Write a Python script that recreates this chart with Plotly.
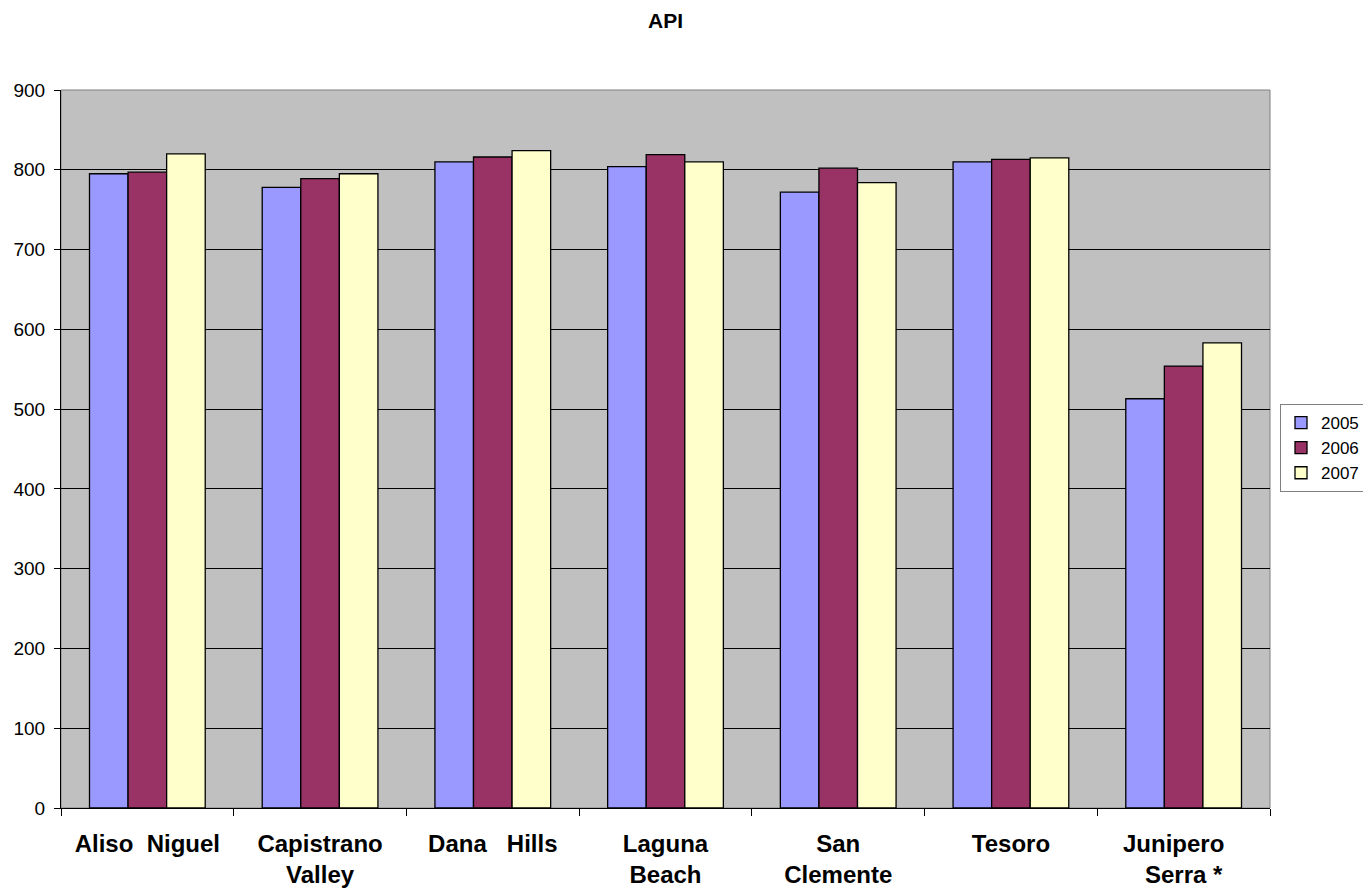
import plotly.graph_objects as go

categories = ["Aliso\u00a0\u00a0Niguel", "Capistrano<br>Valley", "Dana\u00a0\u00a0\u00a0Hills",
              "Laguna<br>Beach", "San<br>Clemente", "Tesoro", "Junipero\u00a0\u00a0\u00a0<br>Serra *"]
years = ["2005", "2006", "2007"]
v2005 = [795, 778, 810, 804, 772, 810, 513]
v2006 = [797, 789, 816, 819, 802, 813, 554]
v2007 = [820, 795, 824, 810, 784, 815, 583]
colors = ["#9999FF", "#993366", "#FFFFCC"]

fig = go.Figure()
for name, vals, c in zip(years, [v2005, v2006, v2007], colors):
    fig.add_trace(go.Bar(x=categories, y=vals, name=name, marker_color=c,
                         marker_line_color="black", marker_line_width=1.3))

W, H = 1363, 880
fig.update_layout(
    width=W, height=H,
    margin=dict(l=53, r=101, t=82, b=80, autoexpand=False),
    paper_bgcolor="white", plot_bgcolor="#C0C0C0",
    barmode="group", bargap=0.33, bargroupgap=0,
    font=dict(family="Liberation Sans, Arial", size=18, color="black"),
    title=dict(text="<b>API</b>", x=0.5, xref="paper", y=1 - 13 / H, yanchor="middle",
               font=dict(size=21)),
    legend=dict(x=(1280 - 8) / W, y=(888 - 448) / H, xref="container", yref="container",
                xanchor="left", yanchor="middle",
                bordercolor="#808080", borderwidth=1, font=dict(size=17),
                itemwidth=30, tracegroupgap=2),
    showlegend=True,
)
fig.update_xaxes(tickson="boundaries", ticks="outside", ticklen=7, tickcolor="black",
                 showline=True, linecolor="black", linewidth=1, mirror=False,
                 tickfont=dict(size=24, family="Liberation Sans, Arial", weight="bold"),
                 ticklabelstandoff=14, automargin=False)
fig.update_yaxes(range=[0, 900], dtick=100, ticks="outside", ticklen=6, tickcolor="black",
                 showline=True, linecolor="black", linewidth=1,
                 gridcolor="black", gridwidth=1, zeroline=False,
                 tickfont=dict(size=19), ticklabelstandoff=5, automargin=False)
fig.add_shape(type="rect", xref="paper", yref="paper", x0=0, x1=1, y0=0, y1=1,
              line=dict(color="#808080", width=1), layer="below")

fig.write_html("out.html")
